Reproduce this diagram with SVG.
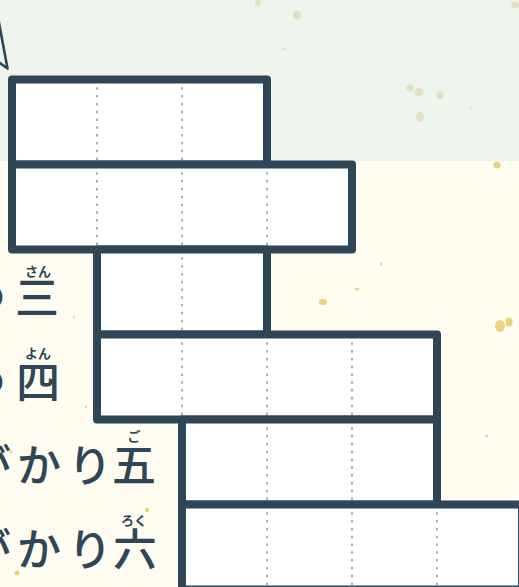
<svg xmlns="http://www.w3.org/2000/svg" width="519" height="587" viewBox="0 0 519 587">
<style>
.cell{fill:#ffffff;stroke:none}
.frame{fill:none;stroke:#2f4558;stroke-width:8;stroke-linejoin:round}
.guide{stroke:#8c8c8c;stroke-width:1.4;stroke-dasharray:2.5 5.3;fill:none}
.big{font-family:"Noto Sans CJK JP","Noto Sans",sans-serif;font-weight:500;font-size:44px;fill:#2f4558}
.ruby{font-family:"Noto Sans CJK JP","Noto Sans",sans-serif;font-weight:700;font-size:13px;fill:#2f4558;text-anchor:middle}
.gold{fill:#ead27f}
.pale{fill:#e4e1c2}
</style>
<rect x="0" y="0" width="519" height="161" fill="#edf4ec"/>
<rect x="0" y="161" width="519" height="426" fill="#fffdef"/>
<g id="speckles">
<ellipse class="pale" cx="258" cy="3" rx="3" ry="3"/>
<ellipse class="pale" cx="297" cy="15" rx="4" ry="4.5"/>
<ellipse class="pale" cx="284" cy="49" rx="2.5" ry="1.3"/>
<ellipse class="pale" cx="410" cy="88" rx="4" ry="3.5"/>
<ellipse class="pale" cx="419" cy="92" rx="4.5" ry="4"/>
<ellipse class="pale" cx="440" cy="95" rx="3.5" ry="4"/>
<ellipse class="pale" cx="420" cy="117" rx="4" ry="5"/>
<ellipse class="pale" cx="515" cy="5" rx="4" ry="3.5"/>
<circle class="pale" cx="471" cy="108" r="1"/>
<circle class="gold" cx="497" cy="165" r="3.5"/>
<circle class="gold" cx="381" cy="264" r="1.2"/>
<ellipse class="gold" cx="357" cy="289" rx="2.5" ry="1.3"/>
<ellipse class="gold" cx="323" cy="302" rx="4" ry="3"/>
<ellipse class="gold" cx="500" cy="326" rx="5" ry="6"/>
<ellipse class="gold" cx="509" cy="322" rx="3.5" ry="4.5"/>
<circle class="gold" cx="487" cy="436" r="1.5"/>
<circle class="gold" cx="147" cy="510" r="2.2"/>
<circle class="gold" cx="17" cy="573" r="2.5"/>
<circle class="gold" cx="74" cy="317" r="1"/>
<circle class="gold" cx="86" cy="407" r="1.2"/>
<circle class="gold" cx="11" cy="452" r="1.5"/>
</g>
<g id="pointer">
<path d="M -3 12 L 7.5 68.5 L -3 61" fill="none" stroke="#2f4558" stroke-width="2.6" stroke-linejoin="round"/>
</g>
<g id="labels">
<text class="big" x="-38 15" y="314">つ三</text>
<text class="ruby" x="38" y="276">さん</text>
<text class="big" x="-38 16" y="399">つ四</text>
<text class="ruby" x="38" y="358">よん</text>
<text class="big" x="-33 17 68 112" y="482">がかり五</text>
<text class="ruby" x="134" y="441">ご</text>
<text class="big" x="-33 17 68 113" y="566">がかり六</text>
<text class="ruby" x="134" y="525">ろく</text>
</g>
<g id="row1">
<rect class="cell" x="12" y="79.5" width="255" height="85"/>
<path class="guide" d="M97 79.5V164.5M182 79.5V164.5"/>
<rect class="frame" x="12" y="79.5" width="255" height="85"/>
</g>
<g id="row2">
<rect class="cell" x="12" y="164.5" width="340" height="85"/>
<path class="guide" d="M97 164.5V249.5M182 164.5V249.5M267 164.5V249.5"/>
<rect class="frame" x="12" y="164.5" width="340" height="85"/>
</g>
<g id="row3">
<rect class="cell" x="97" y="249.5" width="170" height="85"/>
<path class="guide" d="M182 249.5V334.5"/>
<rect class="frame" x="97" y="249.5" width="170" height="85"/>
</g>
<g id="row4">
<rect class="cell" x="97" y="334.5" width="340" height="85"/>
<path class="guide" d="M182 334.5V419.5M267 334.5V419.5M352 334.5V419.5"/>
<rect class="frame" x="97" y="334.5" width="340" height="85"/>
</g>
<g id="row5">
<rect class="cell" x="182" y="419.5" width="255" height="85"/>
<path class="guide" d="M267 419.5V504.5M352 419.5V504.5"/>
<rect class="frame" x="182" y="419.5" width="255" height="85"/>
</g>
<g id="row6">
<rect class="cell" x="182" y="504.5" width="340" height="85"/>
<path class="guide" d="M267 504.5V589.5M352 504.5V589.5M437 504.5V589.5"/>
<rect class="frame" x="182" y="504.5" width="340" height="85"/>
</g>
<g id="connectors"/>
</svg>
